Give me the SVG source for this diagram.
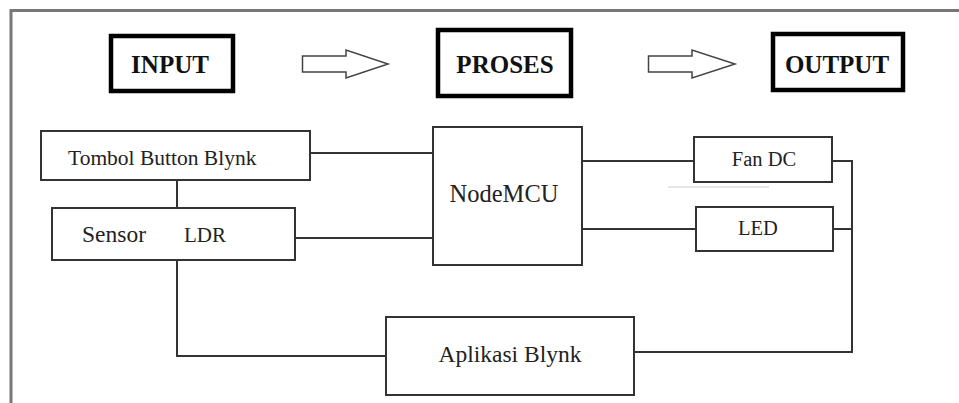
<svg xmlns="http://www.w3.org/2000/svg" width="959" height="403" viewBox="0 0 959 403">
<style>
.frame{fill:none;stroke:#777;stroke-width:3}
.hb{fill:#fff;stroke:#000;stroke-width:4.5}
.bx{fill:#fff;stroke:#333;stroke-width:2}
.ln{fill:none;stroke:#333;stroke-width:2}
.ar{fill:#fff;stroke:#444;stroke-width:1.5;stroke-linejoin:miter}
.ht{font-family:"Liberation Serif","Times New Roman",serif;font-weight:bold;font-size:25px;fill:#111;text-anchor:middle}
.lbl{font-family:"Liberation Serif","Times New Roman",serif;font-weight:normal;fill:#222}
</style>
<rect width="959" height="403" fill="#fff"/>
<path class="frame" d="M11 403 V10.5 H959"/>
<g id="input"><rect class="hb" x="111" y="36" width="122" height="55"/><text class="ht" x="170" y="73">INPUT</text></g>
<g id="proses"><rect class="hb" x="438" y="30" width="133" height="66"/><text class="ht" x="505" y="73">PROSES</text></g>
<g id="output"><rect class="hb" x="773" y="34" width="130" height="56"/><text class="ht" x="837" y="73">OUTPUT</text></g>
<g id="arrows">
<path class="ar" d="M302.5 56 H346 V50 L388 64 L346 78 V72 H302.5 Z"/>
<path class="ar" d="M648.5 56 H692 V50 L735 64 L692 78 V72 H648.5 Z"/>
</g>
<g id="connectors">
<path class="ln" d="M310 153 H433"/>
<path class="ln" d="M295 238 H433"/>
<path class="ln" d="M177 180 V208"/>
<path class="ln" d="M177 260 V356 H386"/>
<path class="ln" d="M582 161 H694"/>
<path class="ln" d="M582 229 H696"/>
<path class="ln" d="M832 161 H853"/>
<path class="ln" d="M833 229 H852"/>
<path class="ln" d="M852 161 V352 H634"/>
<path d="M668 187 H769" stroke="#ddd" stroke-width="1.5" fill="none"/>
</g>
<g id="tombol"><rect class="bx" x="41" y="131" width="269" height="49"/><text class="lbl" x="68" y="165" style="font-size:21.5px">Tombol Button Blynk</text></g>
<g id="sensor"><rect class="bx" x="52" y="208" width="243" height="52"/><text class="lbl" x="82" y="242" style="font-size:23.5px">Sensor</text><text class="lbl" x="184" y="242" style="font-size:21px">LDR</text></g>
<g id="nodemcu"><rect class="bx" x="433" y="127" width="149" height="138"/><text class="lbl" x="504" y="202" text-anchor="middle" style="font-size:24.5px">NodeMCU</text></g>
<g id="fandc"><rect class="bx" x="694" y="137" width="138" height="45"/><text class="lbl" x="764" y="166" text-anchor="middle" style="font-size:20.5px">Fan DC</text></g>
<g id="led"><rect class="bx" x="696" y="207" width="137" height="44"/><text class="lbl" x="758" y="235" text-anchor="middle" style="font-size:20.5px">LED</text></g>
<g id="aplikasi"><rect class="bx" x="386" y="317" width="248" height="78"/><text class="lbl" x="510" y="362" text-anchor="middle" style="font-size:23.5px">Aplikasi Blynk</text></g>
</svg>
